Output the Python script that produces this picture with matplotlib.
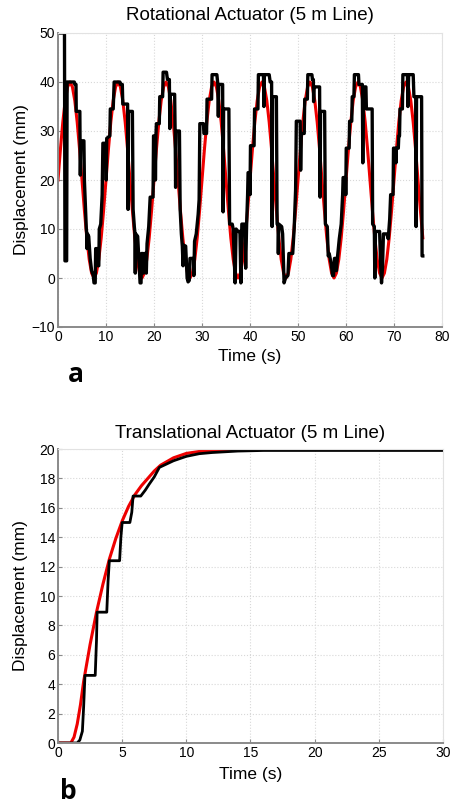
import matplotlib
matplotlib.use("Agg")
import matplotlib.pyplot as plt
import numpy as np

plt.rcParams['font.family'] = ['Liberation Sans', 'DejaVu Sans']

# ---- panel a: rotational actuator ----
# reference signal, sampled every 0.5 s (one row per 10 s cycle)
rot_ref_t = np.arange(0, 76.01, 0.5)
rot_ref_y = [
    20, 26.2, 31.8, 36.2, 39.0, 40, 39.0, 36.2, 31.8, 26.2, 20, 13.8, 8.2, 3.8, 1.0, 0, 1.0, 3.8, 8.2, 13.8,
    20, 26.2, 31.8, 36.2, 39.0, 40, 39.0, 36.2, 31.8, 26.2, 20, 13.8, 8.2, 3.8, 1.0, 0, 1.0, 3.8, 8.2, 13.8,
    20, 26.2, 31.8, 36.2, 39.0, 40, 39.0, 36.2, 31.8, 26.2, 20, 13.8, 8.2, 3.8, 1.0, 0, 1.0, 3.8, 8.2, 13.8,
    20, 26.2, 31.8, 36.2, 39.0, 40, 39.0, 36.2, 31.8, 26.2, 20, 13.8, 8.2, 3.8, 1.0, 0, 1.0, 3.8, 8.2, 13.8,
    20, 26.2, 31.8, 36.2, 39.0, 40, 39.0, 36.2, 31.8, 26.2, 20, 13.8, 8.2, 3.8, 1.0, 0, 1.0, 3.8, 8.2, 13.8,
    20, 26.2, 31.8, 36.2, 39.0, 40, 39.0, 36.2, 31.8, 26.2, 20, 13.8, 8.2, 3.8, 1.0, 0, 1.0, 3.8, 8.2, 13.8,
    20, 26.2, 31.8, 36.2, 39.0, 40, 39.0, 36.2, 31.8, 26.2, 20, 13.8, 8.2, 3.8, 1.0, 0, 1.0, 3.8, 8.2, 13.8,
    20, 26.2, 31.8, 36.2, 39.0, 40, 39.0, 36.2, 31.8, 26.2, 20, 13.8, 8.2,
]

rot_meas_t = [
    0, 1.35, 1.45, 1.8, 1.9, 3.4, 3.5, 3.75, 3.8, 4.55, 4.6, 4.65, 4.75, 5.4, 5.5, 5.75, 5.9, 6.0, 6.05, 6.15, 6.4, 6.7, 7.0, 7.35, 7.5, 7.75, 7.85, 8.25, 8.35, 8.5, 8.6, 8.9, 9.2,
    9.35, 10.0, 10.05, 10.15, 10.8, 10.9, 11.5, 11.7, 12.9, 13.0, 13.4, 13.5, 14.5, 14.6, 14.7, 15.5, 15.65, 15.9, 16.0, 16.1, 16.2, 16.6, 16.9, 17.1, 17.3, 17.4, 17.7, 17.8, 17.95, 18.3, 18.4, 18.55, 18.9, 19.2,
    19.8, 19.9, 20.25, 20.3, 20.4, 20.5, 21.1, 21.2, 21.8, 21.9, 22.6, 22.8, 23.2, 23.3, 23.4, 24.3, 24.4, 24.5, 24.6, 25.3, 25.45, 25.7, 25.9, 26.05, 26.2, 26.6, 26.9, 27.1, 27.35, 27.5, 28.2, 28.3, 28.45, 28.8, 29.2, 29.4,
    29.55, 30.3, 30.4, 30.95, 31.05, 32.0, 32.1, 33.1, 33.3, 33.4, 33.5, 34.3, 34.4, 34.5, 35.6, 35.75, 36.3, 36.5, 36.9, 37.1, 37.5, 37.9, 38.1, 38.3, 38.9, 39.1, 39.3, 39.5,
    39.6, 39.9, 40.0, 40.1, 40.85, 40.95, 41.65, 41.75, 42.8, 42.9, 43.0, 44.0, 44.2, 44.5, 44.6, 44.7, 45.5, 45.65, 45.85, 45.9, 46.0, 46.6, 46.8, 47.0, 47.1, 47.4, 47.9, 48.1, 48.9, 49.2, 49.5,
    49.65, 50.45, 50.55, 50.7, 51.3, 51.4, 51.95, 52.05, 52.9, 53.0, 53.2, 53.25, 53.35, 54.5, 54.6, 54.7, 55.55, 55.7, 56.1, 56.3, 56.5, 56.9, 57.2, 57.4, 57.6, 57.9, 58.0, 58.2, 58.6, 59.0, 59.3,
    59.4, 59.9, 59.95, 60.05, 60.65, 60.75, 61.2, 61.3, 61.65, 61.75, 62.6, 62.7, 63.4, 63.5, 63.6, 64.15, 64.25, 65.45, 65.55, 65.9, 66.0, 66.15, 67.0, 67.2, 67.4, 67.6, 67.8, 68.5, 68.8, 69.1, 69.3,
    69.8, 69.9, 70.3, 70.4, 70.5, 70.9, 71.0, 71.15, 71.25, 71.75, 71.85, 72.8, 72.9, 73.05, 74.0, 74.15, 74.55, 74.6, 74.7, 75.75, 75.85, 76.0,
]
rot_meas_y = [
    50, 50, 3.5, 3.5, 40, 40, 39.5, 39.5, 34, 34, 28.5, 21, 28, 28, 20, 14, 10, 9, 6, 9, 8.5, 4, 1.5, 0.5, -1, -1, 6, 6, 2.5, 2.5, 10, 11, 17,
    27.5, 27.5, 20, 28.5, 29, 34.5, 34.5, 40, 40, 39.5, 39.5, 35.5, 35.5, 14, 34, 34, 14, 10.5, 9.5, 1, 9, 8.5, 3, -1, -1, 5, 5, 1, 5, 5, 1, 7, 10.5, 16.5,
    16.5, 29, 29, 20, 29, 31.5, 31.5, 37, 37, 42, 42, 40.5, 40.5, 30.5, 37.5, 37.5, 30, 18.5, 30, 30, 14, 9, 6.5, 2.5, 6.7, 6.5, 0, -0.8, -0.5, 4, 4, 0.5, 7.5, 9, 13, 16,
    31.5, 31.5, 29.5, 29.5, 36.5, 36.5, 41.5, 41.5, 39.5, 33, 39.5, 39.5, 13.5, 34.5, 34.5, 11, 11, 10, -1, 10, 9.5, 9.5, -1, 11, 11, 2, 11, 17,
    21.5, 21.5, 17, 27, 27, 34.5, 34.5, 41.5, 41.5, 35, 41.5, 41.5, 40, 40, 10.5, 37, 37, 11, 11, 5, 11, 10.5, 9, 2, -1, 0, 0.5, 5, 5, 10, 18,
    32, 32, 22, 29.5, 29.5, 36.5, 36.5, 41.5, 41.5, 40.5, 40.5, 36, 39, 39, 16.5, 34, 34, 11, 10.5, 4.5, 5, 3, 0.5, 0.5, 4, 4, 1.5, 4, 8, 11, 17,
    20.5, 20.5, 17, 26.5, 26.5, 32, 32, 37, 37, 41.5, 41.5, 39.5, 39.5, 23.5, 39, 39, 34.5, 34.5, 11, 10.5, 0, 9.5, 9.5, 3, -1, 2, 9, 9, 8, 12, 17,
    17, 26.5, 26.5, 23.5, 26.5, 26.5, 29, 29, 34.5, 34.5, 41.5, 41.5, 35, 41.5, 41.5, 37, 37, 10.5, 37, 37, 4.5, 4.5,
]

# ---- panel b: translational actuator ----
tr_ref_t = [0, 0.5, 1.0, 1.25, 1.5, 1.75, 2.0, 2.5, 3.0, 3.5, 4.0, 4.5, 5.0, 5.5, 6.0, 6.5, 7.0, 7.5,
            8.0, 9.0, 10.0, 11.0, 12.0, 14.0, 16.0, 28.2]
tr_ref_y = [0, 0, 0, 0.4, 1.3, 2.6, 4.2, 6.7, 8.9, 10.8, 12.5, 13.9, 15.1, 16.1, 16.9, 17.5, 18.0, 18.5,
            18.9, 19.4, 19.7, 19.83, 19.9, 19.96, 20.0, 20.0]

tr_meas_t = [0, 1.5, 1.7, 1.9, 2.0, 2.1, 2.9, 3.0, 3.05, 3.8, 3.9, 4.0, 4.8, 4.9, 5.0, 5.6, 5.75, 5.85,
             6.45, 6.8, 7.1, 7.5, 7.9, 9.0, 10.0, 11.0, 12.0, 14.0, 16.0, 30.0]
tr_meas_y = [0, 0, 0.2, 0.8, 2.5, 4.6, 4.6, 7.0, 8.9, 8.9, 11.0, 12.4, 12.4, 14.0, 15.0, 15.0, 15.7, 16.8,
             16.8, 17.2, 17.6, 18.1, 18.75, 19.2, 19.5, 19.68, 19.76, 19.86, 19.9, 19.9]

W, H = 452, 805
fig = plt.figure(figsize=(W / 100, H / 100), dpi=100)


def style_axes(ax):
    ax.grid(True, color='#d8d8d8', linestyle=':', linewidth=0.8)
    ax.set_axisbelow(True)
    for side in ('left', 'bottom'):
        ax.spines[side].set_color('#8a8a8a')
        ax.spines[side].set_linewidth(1.4)
    for side in ('top', 'right'):
        ax.spines[side].set_color('#e2e2e2')
        ax.spines[side].set_linewidth(0.8)
    ax.tick_params(direction='in', length=3, width=0.8, color='#8a8a8a',
                   labelsize=10, pad=2, top=False, right=False)


ax1 = fig.add_axes([58 / W, 1 - 327 / H, 384 / W, 294 / H])
ax1.plot(rot_ref_t, rot_ref_y, color='#ee0000', lw=2.2)
ax1.plot(rot_meas_t, rot_meas_y, color='black', lw=2.4)
ax1.set_xlim(0, 80)
ax1.set_ylim(-10, 50)
ax1.set_xticks(range(0, 81, 10))
ax1.set_yticks(range(-10, 51, 10))
style_axes(ax1)
ax1.set_title('Rotational Actuator (5 m Line)', fontsize=13.5, pad=9)
ax1.set_xlabel('Time (s)', fontsize=12.5, labelpad=4)
ax1.set_ylabel('Displacement (mm)', fontsize=12.5, labelpad=2)

ax2 = fig.add_axes([58 / W, 1 - 743 / H, 385 / W, 294 / H])
ax2.plot(tr_ref_t, tr_ref_y, color='#ee0000', lw=2.2)
ax2.plot(tr_meas_t, tr_meas_y, color='black', lw=2.0)
ax2.set_xlim(0, 30)
ax2.set_ylim(0, 20)
ax2.set_xticks(range(0, 31, 5))
ax2.set_yticks(range(0, 21, 2))
style_axes(ax2)
ax2.set_title('Translational Actuator (5 m Line)', fontsize=13.5, pad=8)
ax2.set_xlabel('Time (s)', fontsize=12.5, labelpad=5)
ax2.set_ylabel('Displacement (mm)', fontsize=12.5, labelpad=8)

fig.text(68 / W, 1 - 382 / H, 'a', fontsize=19, fontweight='bold',
         family=['Open Sans', 'DejaVu Sans'], va='baseline')
fig.text(60 / W, 1 - 799 / H, 'b', fontsize=19, fontweight='bold',
         family=['Open Sans', 'DejaVu Sans'], va='baseline')

fig.savefig('out.png', dpi=100)
